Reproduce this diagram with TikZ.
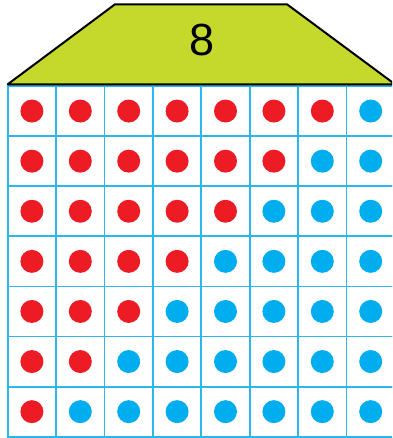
\documentclass[tikz,border=0pt]{standalone}
\usepackage{fontspec}
\setmainfont{Liberation Sans}
\usetikzlibrary{positioning}
\definecolor{roofgreen}{HTML}{C5D92D}
\definecolor{dotred}{HTML}{ED1C24}
\definecolor{dotblue}{HTML}{00AEEF}
\definecolor{gridcyan}{HTML}{2BB7EA}

\begin{document}
\begin{tikzpicture}[x=1pt,y=-1pt,
    cell/.style={draw=gridcyan,line width=1.8pt,minimum width=48.4pt,
                 minimum height=50.1pt,inner sep=0pt,outer sep=0pt},
    dot/.style={circle,inner sep=0pt,minimum size=23pt}]
    \useasboundingbox (0,0) rectangle (392,438);
    \clip (0,0) rectangle (392,438);

    % grid of cells, red dots first in every row
    \foreach \r in {0,...,6}
      \foreach \c in {0,...,7} {
        \pgfmathtruncatemacro{\nred}{7-\r}
        \ifnum\c<\nred \def\dotcol{dotred}\else \def\dotcol{dotblue}\fi
        \node[cell] (cell-\r-\c) at ({7.7+48.4*\c+24.2},{86+50.1*\r+25.05}) {};
        \node[dot,fill=\dotcol] (dot-\r-\c) at (cell-\r-\c) {};
      }

    % roof
    \draw[fill=roofgreen,line width=2pt,line join=round]
      (7.7,84.3) -- (115,4.3) -- (287,4.3) -- (395,84.3) -- cycle;
    \node[font=\fontsize{45}{45}\selectfont] (num) at (202,40) {8};
  \end{tikzpicture}
\end{document}
